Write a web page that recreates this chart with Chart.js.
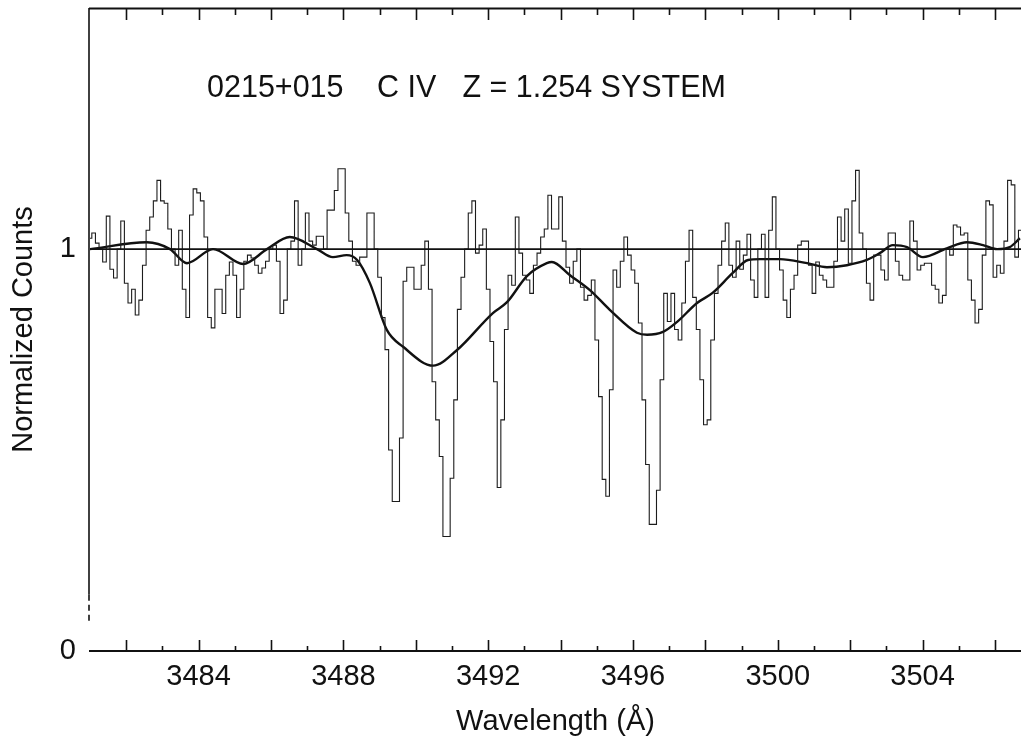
<!DOCTYPE html>
<html>
<head>
<meta charset="utf-8">
<script src="https://cdn.jsdelivr.net/npm/chart.js@4/dist/chart.umd.min.js"></script>
<style>
  html, body { margin: 0; padding: 0; background: #fff; }
  #wrap { width: 1021px; height: 740px; }
</style>
</head>
<body>
<div id="wrap"><canvas id="c" width="1021" height="740"></canvas></div>
<script>
// Spectrum pixels (Angstrom), 0.1 A sampling
const wavelength = [
  3481.0,3481.1,3481.2,3481.3,3481.4,3481.5,3481.6,3481.7,3481.8,3481.9,
  3482.0,3482.1,3482.2,3482.3,3482.4,3482.5,3482.6,3482.7,3482.8,3482.9,
  3483.0,3483.1,3483.2,3483.3,3483.4,3483.5,3483.6,3483.7,3483.8,3483.9,
  3484.0,3484.1,3484.2,3484.3,3484.4,3484.5,3484.6,3484.7,3484.8,3484.9,
  3485.0,3485.1,3485.2,3485.3,3485.4,3485.5,3485.6,3485.7,3485.8,3485.9,
  3486.0,3486.1,3486.2,3486.3,3486.4,3486.5,3486.6,3486.7,3486.8,3486.9,
  3487.0,3487.1,3487.2,3487.3,3487.4,3487.5,3487.6,3487.7,3487.8,3487.9,
  3488.0,3488.1,3488.2,3488.3,3488.4,3488.5,3488.6,3488.7,3488.8,3488.9,
  3489.0,3489.1,3489.2,3489.3,3489.4,3489.5,3489.6,3489.7,3489.8,3489.9,
  3490.0,3490.1,3490.2,3490.3,3490.4,3490.5,3490.6,3490.7,3490.8,3490.9,
  3491.0,3491.1,3491.2,3491.3,3491.4,3491.5,3491.6,3491.7,3491.8,3491.9,
  3492.0,3492.1,3492.2,3492.3,3492.4,3492.5,3492.6,3492.7,3492.8,3492.9,
  3493.0,3493.1,3493.2,3493.3,3493.4,3493.5,3493.6,3493.7,3493.8,3493.9,
  3494.0,3494.1,3494.2,3494.3,3494.4,3494.5,3494.6,3494.7,3494.8,3494.9,
  3495.0,3495.1,3495.2,3495.3,3495.4,3495.5,3495.6,3495.7,3495.8,3495.9,
  3496.0,3496.1,3496.2,3496.3,3496.4,3496.5,3496.6,3496.7,3496.8,3496.9,
  3497.0,3497.1,3497.2,3497.3,3497.4,3497.5,3497.6,3497.7,3497.8,3497.9,
  3498.0,3498.1,3498.2,3498.3,3498.4,3498.5,3498.6,3498.7,3498.8,3498.9,
  3499.0,3499.1,3499.2,3499.3,3499.4,3499.5,3499.6,3499.7,3499.8,3499.9,
  3500.0,3500.1,3500.2,3500.3,3500.4,3500.5,3500.6,3500.7,3500.8,3500.9,
  3501.0,3501.1,3501.2,3501.3,3501.4,3501.5,3501.6,3501.7,3501.8,3501.9,
  3502.0,3502.1,3502.2,3502.3,3502.4,3502.5,3502.6,3502.7,3502.8,3502.9,
  3503.0,3503.1,3503.2,3503.3,3503.4,3503.5,3503.6,3503.7,3503.8,3503.9,
  3504.0,3504.1,3504.2,3504.3,3504.4,3504.5,3504.6,3504.7,3504.8,3504.9,
  3505.0,3505.1,3505.2,3505.3,3505.4,3505.5,3505.6,3505.7,3505.8,3505.9,
  3506.0,3506.1,3506.2,3506.3,3506.4,3506.5,3506.6,3506.7,3506.8
];

// Normalized counts per pixel
const counts = [
  1.027,1.04,1.015,1.0,0.968,1.082,0.95,0.928,1.0,1.07,
  0.915,0.866,0.90,0.836,0.873,0.96,1.047,1.08,1.12,1.171,
  1.12,1.114,1.05,1.0,0.96,1.047,0.90,0.83,1.085,1.15,
  1.14,1.12,1.03,0.83,0.804,0.90,0.90,0.84,0.935,0.968,
  0.935,0.83,0.90,0.97,0.985,0.978,0.96,0.94,0.953,0.97,
  1.0,1.01,0.97,0.84,0.873,1.0,1.02,1.12,0.96,1.0,
  1.09,1.02,1.01,1.032,1.032,1.0,1.097,1.097,1.146,1.20,
  1.20,1.09,1.02,0.97,0.96,0.98,0.98,1.09,1.09,1.0,
  0.93,0.83,0.75,0.50,0.372,0.372,0.53,0.92,0.955,0.955,
  0.90,0.90,0.96,1.02,0.90,0.67,0.575,0.484,0.285,0.285,
  0.43,0.625,0.85,0.93,1.0,1.09,1.12,0.99,1.01,1.05,
  0.90,0.77,0.67,0.407,0.575,0.80,0.935,0.91,1.08,0.99,
  0.935,0.923,0.89,0.96,0.99,1.03,1.05,1.134,1.05,1.05,
  1.13,1.02,0.955,0.915,0.97,1.0,0.905,0.873,0.885,0.923,
  0.774,0.633,0.427,0.385,0.65,0.948,0.905,0.97,1.03,0.985,
  0.948,0.915,0.816,0.625,0.464,0.315,0.315,0.40,0.675,0.89,
  0.82,0.89,0.80,0.774,0.866,0.97,1.047,0.88,0.80,0.675,
  0.563,0.575,0.774,0.89,0.96,1.02,1.065,0.96,0.93,1.02,
  0.95,0.985,1.037,0.923,0.88,1.0,1.037,0.88,1.047,1.13,
  1.0,0.948,0.873,0.83,0.90,0.935,1.01,1.02,1.02,0.96,
  0.89,0.968,0.935,0.923,0.905,0.905,0.97,1.08,1.02,1.10,
  0.965,1.12,1.196,1.04,1.0,0.915,0.873,0.985,0.985,0.948,
  0.923,1.04,1.04,0.97,0.935,0.923,0.923,1.07,1.02,0.948,
  0.96,0.965,0.965,0.91,0.90,0.866,0.885,1.0,0.985,1.06,
  1.055,1.035,1.04,0.923,0.873,0.816,0.85,0.985,1.12,1.11,
  0.93,0.96,0.94,1.02,1.171,1.16,0.98,1.047,1.05
];

// Smoothed spectrum (low-resolution profile)
const smoothWavelength = [
  3481.0,3482.57,3483.21,3483.68,3484.40,3485.23,3485.89,3486.52,3487.27,3487.71,
  3488.09,3488.38,3488.73,3489.20,3489.65,3490.48,3491.14,3492.13,3492.52,3493.07,
  3493.62,3493.76,3494.26,3494.81,3495.36,3496.11,3496.39,3496.83,3497.22,3497.77,
  3498.20,3498.75,3499.18,3499.51,3500.06,3500.81,3501.36,3501.91,3502.46,3502.82,
  3503.18,3503.57,3504.01,3504.67,3505.23,3505.67,3506.06,3506.41,3506.69
];
const smoothCounts = [
  1.0,1.017,1.0,0.965,1.0,0.963,1.0,1.030,1.0,0.980,
  0.985,0.973,0.916,0.799,0.757,0.710,0.749,0.841,0.868,0.933,
  0.965,0.968,0.935,0.898,0.849,0.792,0.787,0.794,0.819,0.866,
  0.891,0.940,0.973,0.975,0.975,0.965,0.955,0.960,0.973,0.990,
  1.010,1.005,0.980,1.002,1.017,1.010,1.0,1.005,1.027
];

const continuumLevel = 1;
const xRange = [3481.0, 3506.72];
const yRange = [0, 1.6];
const xTickLabels = [3484, 3488, 3492, 3496, 3500, 3504];
const xTickMarks = [3482,3483,3484,3485,3486,3487,3488,3489,3490,3491,3492,3493,
                    3494,3495,3496,3497,3498,3499,3500,3501,3502,3503,3504,3505,3506];
const yTickLabels = [0, 1];
const titleParts = ['0215+015', 'C IV', 'Z = 1.254 SYSTEM'];

const FONT = '"Liberation Sans", Arial, Helvetica, sans-serif';
const INK = '#111';

// Box frame, inward tick marks and the heading text
const frameAndTicks = {
  id: 'frameAndTicks',
  afterDatasetsDraw(chart) {
    const { ctx, chartArea: a, scales: { x, y } } = chart;
    ctx.save();
    ctx.strokeStyle = INK;
    ctx.lineCap = 'butt';

    // top and bottom axis lines
    ctx.lineWidth = 2;
    ctx.beginPath();
    ctx.moveTo(a.left - 1, a.top + 0.5);
    ctx.lineTo(a.right, a.top + 0.5);
    ctx.moveTo(a.left - 1, a.bottom);
    ctx.lineTo(a.right, a.bottom);
    ctx.stroke();

    // left axis: solid, turning into a broken stroke near the bottom
    ctx.lineWidth = 1.6;
    const lx = a.left - 1;
    ctx.beginPath();
    ctx.moveTo(lx, a.top);
    ctx.lineTo(lx, y.getPixelForValue(0.14));
    ctx.stroke();
    ctx.setLineDash([6, 4]);
    ctx.beginPath();
    ctx.moveTo(lx, y.getPixelForValue(0.14));
    ctx.lineTo(lx, y.getPixelForValue(0.074));
    ctx.stroke();
    ctx.setLineDash([]);

    // tick marks, pointing into the plot
    ctx.lineWidth = 1.6;
    ctx.beginPath();
    xTickMarks.forEach(w => {
      const px = Math.round(x.getPixelForValue(w)) + 0.5;
      const major = w % 2 === 0;
      ctx.moveTo(px, a.bottom);
      ctx.lineTo(px, a.bottom - (major ? 11 : 5));
      ctx.moveTo(px, a.top);
      ctx.lineTo(px, a.top + (major ? 12 : 7));
    });
    ctx.stroke();

    // heading: first two parts left-aligned, last part ends at its right edge
    ctx.fillStyle = INK;
    ctx.font = '30.5px ' + FONT;
    ctx.textBaseline = 'alphabetic';
    ctx.textAlign = 'left';
    ctx.fillText(titleParts[0], 207, 97);
    ctx.fillText(titleParts[1], 377, 97);
    ctx.textAlign = 'right';
    ctx.fillText(titleParts[2], 726, 97);
    ctx.restore();
  }
};

// keep the plot box fixed: no extra room for overhanging tick labels
function fixPadding(s) {
  s.paddingTop = 0;
  s.paddingBottom = 0;
  s.paddingLeft = 0;
  s.paddingRight = 0;
}

const spectrum = wavelength.map((w, i) => ({ x: w, y: counts[i] }));
const smooth = smoothWavelength.map((w, i) => ({ x: w, y: smoothCounts[i] }));
const continuum = xRange.map(w => ({ x: w, y: continuumLevel }));

Chart.defaults.font.family = FONT;
Chart.defaults.color = INK;

new Chart(document.getElementById('c'), {
  type: 'line',
  data: {
    datasets: [
      {
        label: 'continuum',
        data: continuum,
        borderColor: INK,
        borderWidth: 1.6,
        pointRadius: 0,
        fill: false
      },
      {
        label: 'spectrum',
        data: spectrum,
        stepped: 'middle',
        borderColor: '#1c1c1c',
        borderWidth: 1.1,
        pointRadius: 0,
        fill: false
      },
      {
        label: 'smoothed',
        data: smooth,
        cubicInterpolationMode: 'monotone',
        borderColor: INK,
        borderWidth: 2.4,
        pointRadius: 0,
        fill: false
      }
    ]
  },
  options: {
    responsive: false,
    animation: false,
    devicePixelRatio: 1,
    layout: { padding: { top: 8, right: 0, bottom: 0, left: 0 } },
    plugins: {
      legend: { display: false },
      tooltip: { enabled: false },
      title: { display: false }
    },
    scales: {
      x: {
        type: 'linear',
        position: 'bottom',
        min: xRange[0],
        max: xRange[1],
        grid: { display: false, drawTicks: false },
        border: { display: false },
        afterBuildTicks: s => { s.ticks = xTickLabels.map(v => ({ value: v })); },
        afterFit: s => { s.height = 89; fixPadding(s); },
        ticks: {
          autoSkip: false,
          maxRotation: 0,
          padding: 9,
          color: INK,
          font: { size: 29 },
          callback: v => String(v)
        },
        title: {
          display: true,
          text: 'Wavelength (Å)',
          color: INK,
          font: { size: 29 },
          padding: { top: 0, bottom: 1 }
        }
      },
      y: {
        type: 'linear',
        position: 'left',
        min: yRange[0],
        max: yRange[1],
        grid: { display: false, drawTicks: false },
        border: { display: false },
        afterBuildTicks: s => { s.ticks = yTickLabels.map(v => ({ value: v })); },
        afterFit: s => { s.width = 90; fixPadding(s); },
        ticks: {
          padding: 14,
          color: INK,
          font: { size: 29 },
          callback: v => String(v)
        },
        title: {
          display: true,
          text: 'Normalized Counts',
          color: INK,
          font: { size: 29 },
          padding: { top: 7, bottom: 0 }
        }
      }
    }
  },
  plugins: [frameAndTicks]
});
</script>
</body>
</html>
